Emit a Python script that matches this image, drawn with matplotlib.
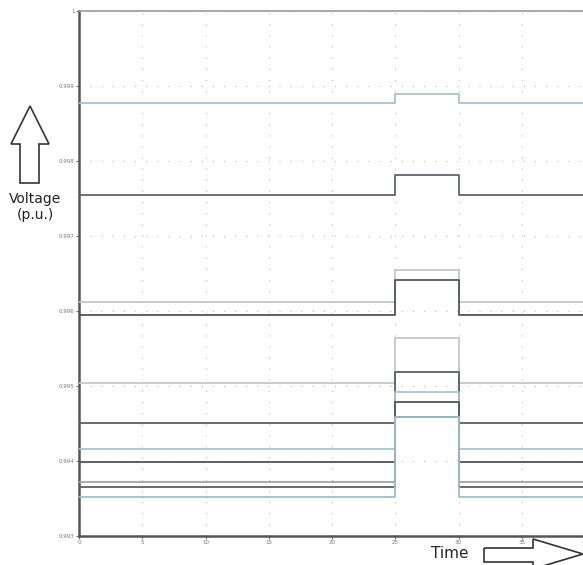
import numpy as np
import matplotlib
matplotlib.use("Agg")
import matplotlib.pyplot as plt
from matplotlib.patches import Polygon

# ---------------------------------------------------------------
# DATA: bus voltages (p.u.) before/after and during the 25-30 s step
# ---------------------------------------------------------------
t_on = 25.0
t_off = 30.0
t_end = 40.0

v_base = [0.998773, 0.997547, 0.996120, 0.995947,
          0.995044, 0.994507, 0.994160, 0.993987,
          0.993720, 0.993653, 0.993520]
v_step = [0.998893, 0.997813, 0.996547, 0.996413,
          0.995640, 0.995187, 0.994920, 0.994787,
          0.994587, 0.994587, 0.994587]
line_colors = ['#a9c3cc', '#5d6670', '#c3c7ca', '#4f565c',
               '#c3c8cb', '#5a6066', '#a8c4cf', '#4e545a',
               '#9ea4a8', '#5a6066', '#9cc0cc']

y_ticks = [0.993, 0.994, 0.995, 0.996, 0.997, 0.998, 0.999, 1.0]
y_tick_labels = ['0.993', '0.994', '0.995', '0.996', '0.997', '0.998', '0.999', '1']
x_ticks = [0, 5, 10, 15, 20, 25, 30, 35, 40]

W, H = 583, 565
fig = plt.figure(figsize=(W / 100, H / 100), dpi=100)
ax = fig.add_axes([79 / W, 1 - 536 / H, (585 - 79) / W, (536 - 11) / H])

t = np.array([0.0, t_on, t_on, t_off, t_off, t_end])
for vb, vs, c in zip(v_base, v_step, line_colors):
    ax.plot(t, [vb, vb, vs, vs, vb, vb], color=c, lw=1.3, zorder=3)

ax.set_xlim(0, 40)
ax.set_ylim(0.993, 1.0)
ax.set_xticks(x_ticks)
ax.set_xticklabels([str(x) for x in x_ticks])
ax.set_yticks(y_ticks)
ax.set_yticklabels(y_tick_labels)
ax.tick_params(labelsize=4, labelcolor='#777777', length=2, width=0.6,
               color='#555555', pad=1)
ax.grid(True, color='#b8b8b8', lw=0.8, linestyle=(0, (1, 9)))

for side in ['left', 'bottom']:
    ax.spines[side].set_linewidth(1.8)
    ax.spines[side].set_color('#555555')
ax.spines['top'].set_linewidth(1.2)
ax.spines['top'].set_color('#999999')
ax.spines['right'].set_visible(False)


def px(points):
    return [(x / W, 1 - y / H) for x, y in points]


# outline arrow pointing up (voltage)
up = [(20, 183), (20, 144), (11, 144), (30, 106), (49, 144), (39, 144), (39, 183)]
fig.patches.append(Polygon(px(up), closed=True, fill=False, ec='#333333',
                           lw=1.2, transform=fig.transFigure))
fig.text(35 / W, 1 - 207 / H, 'Voltage\n(p.u.)', ha='center', va='center',
         fontsize=10, color='#222222', linespacing=1.1)

# outline arrow pointing right (time)
right = [(484, 548), (533, 548), (533, 539), (583, 554), (533, 569),
         (533, 562), (484, 562)]
fig.patches.append(Polygon(px(right), closed=True, fill=False, ec='#333333',
                           lw=1.2, transform=fig.transFigure))
fig.text(450 / W, 1 - 553 / H, 'Time', ha='center', va='center',
         fontsize=11, color='#222222')

fig.savefig('out.png', dpi=100)
